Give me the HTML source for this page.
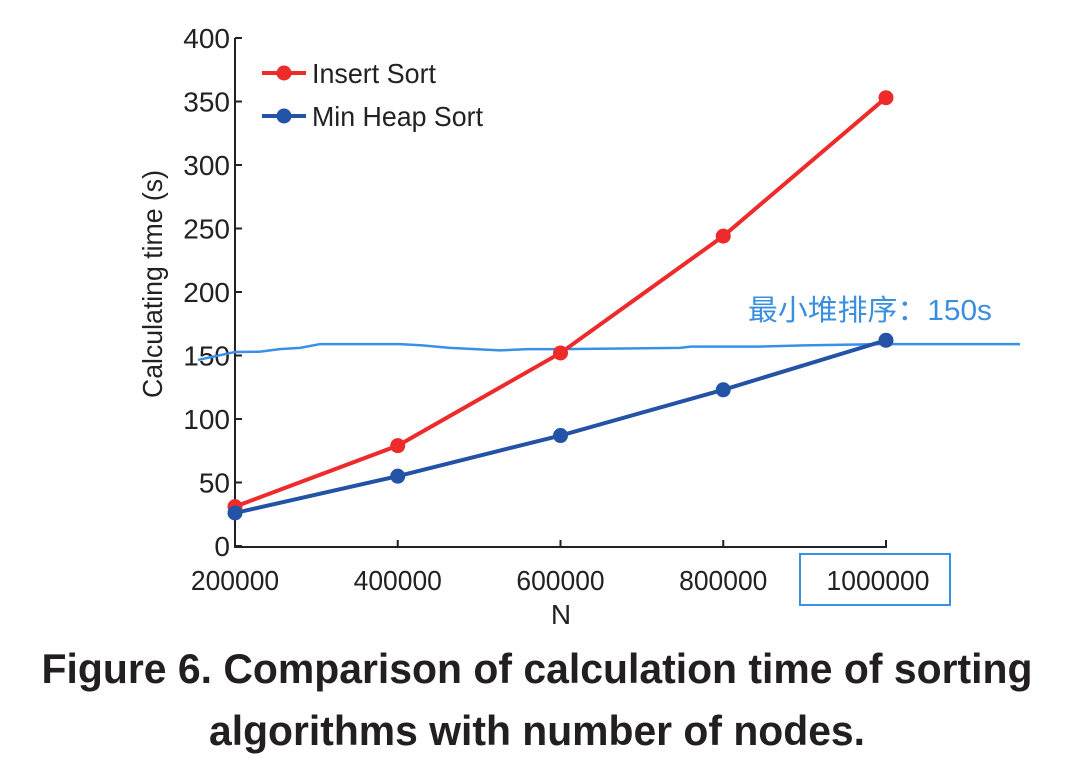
<!DOCTYPE html>
<html><head><meta charset="utf-8"><style>
body{margin:0;background:#fff;width:1080px;height:774px;overflow:hidden}
svg text{font-family:"Liberation Sans Narrow","Liberation Sans",sans-serif}
</style></head><body>
<svg id="c" width="1080" height="774"></svg>
<script>
const xCats=[200000,400000,600000,800000,1000000];
const insertVals=[31,79,152,244,353];
const heapVals=[26,55,87,123,162];
const yTicks=[0,50,100,150,200,250,300,350,400];
const refN=[154500,180000,200000,230000,255000,280000,304500,402800,430000,464200,525700,560000,599400,746800,760000,845100,900000,992600,1164700];
const refV=[146.5,150,152.8,153,155,156,159,159,158,156,154,155,155,156,157,157,158,159,159];
const X=v=>235+(v-200000)/200000*162.75;
const Y=v=>546-v*1.27;
const s=document.getElementById('c');const NS='http://www.w3.org/2000/svg';
function mk(t,a,p){const e=document.createElementNS(NS,t);for(const k in a)e.setAttribute(k,a[k]);(p||s).appendChild(e);return e;}
let e;
e=mk('line',{x1:235,y1:38,x2:235,y2:548,stroke:'#222','stroke-width':2});


e=mk('line',{x1:234,y1:547,x2:887,y2:547,stroke:'#222','stroke-width':2});


yTicks.forEach(v=>{
 e=mk('line',{x1:235,y1:Y(v),x2:242,y2:Y(v),stroke:'#222','stroke-width':2});
 
 
 e=mk('text',{x:230,y:Y(v)+10,'text-anchor':'end','font-size':28,fill:'#222'});e.textContent=v;
 
 
});
xCats.forEach(v=>{
 e=mk('line',{x1:X(v),y1:547,x2:X(v),y2:540,stroke:'#222','stroke-width':2});
 
 
 const str=String(v);
 e=mk('text',{x:X(v)-(str.length>6?8:0),y:590,'text-anchor':'middle','font-size':28,fill:'#222',textLength:str.length*14.7,lengthAdjust:'spacingAndGlyphs'});e.textContent=str;
 
 
});
e=mk('text',{x:561,y:624,'text-anchor':'middle','font-size':28,fill:'#222'});e.textContent='N';


e=mk('text',{x:0,y:0,'text-anchor':'middle','font-size':28,fill:'#222',transform:'translate(162,284) rotate(-90)',textLength:228,lengthAdjust:'spacingAndGlyphs'});e.textContent='Calculating time (s)';


e=mk('polyline',{points:refN.map((n,i)=>X(n)+','+Y(refV[i])).join(' '),fill:'none',stroke:'#3a90e5','stroke-width':2.5});


e=mk('text',{x:748,y:320,'font-size':29,fill:'#3a8fe0',textLength:244,lengthAdjust:'spacingAndGlyphs',style:'font-family:"Liberation Sans","Noto Sans CJK SC",sans-serif'});e.textContent='最小堆排序：150s';


e=mk('rect',{x:800,y:554,width:150,height:51,fill:'none',stroke:'#3a90e5','stroke-width':2});


function series(vals,col,name){
 e=mk('polyline',{points:vals.map((v,i)=>X(xCats[i])+','+Y(v)).join(' '),fill:'none',stroke:col,'stroke-width':4});
 
 
 vals.forEach((v,i)=>{e=mk('circle',{cx:X(xCats[i]),cy:Y(v),r:7.5,fill:col});
 
 });
}
series(insertVals,'#ee2b2b','insert-sort');
series(heapVals,'#2452a6','min-heap-sort');
function leg(y,col,txt,name,w){
 e=mk('line',{x1:262,y1:y,x2:306,y2:y,stroke:col,'stroke-width':4});
 
 
 e=mk('circle',{cx:284,cy:y,r:7.5,fill:col});
 
 
 e=mk('text',{x:312,y:y+10,'font-size':28,fill:'#222',textLength:w,lengthAdjust:'spacingAndGlyphs'});e.textContent=txt;
 
 
}
leg(73,'#ee2b2b','Insert Sort','insert-sort',124);
leg(116,'#2452a6','Min Heap Sort','min-heap-sort',171);
[['Figure 6. Comparison of calculation time of sorting',683,991],['algorithms with number of nodes.',745,656]].forEach(t=>{
 e=mk('text',{x:537,y:t[1],'text-anchor':'middle','font-size':42,'font-weight':'bold',fill:'#231f20',textLength:t[2],lengthAdjust:'spacingAndGlyphs'});e.textContent=t[0];
 
 
});
</script>
</body></html>
